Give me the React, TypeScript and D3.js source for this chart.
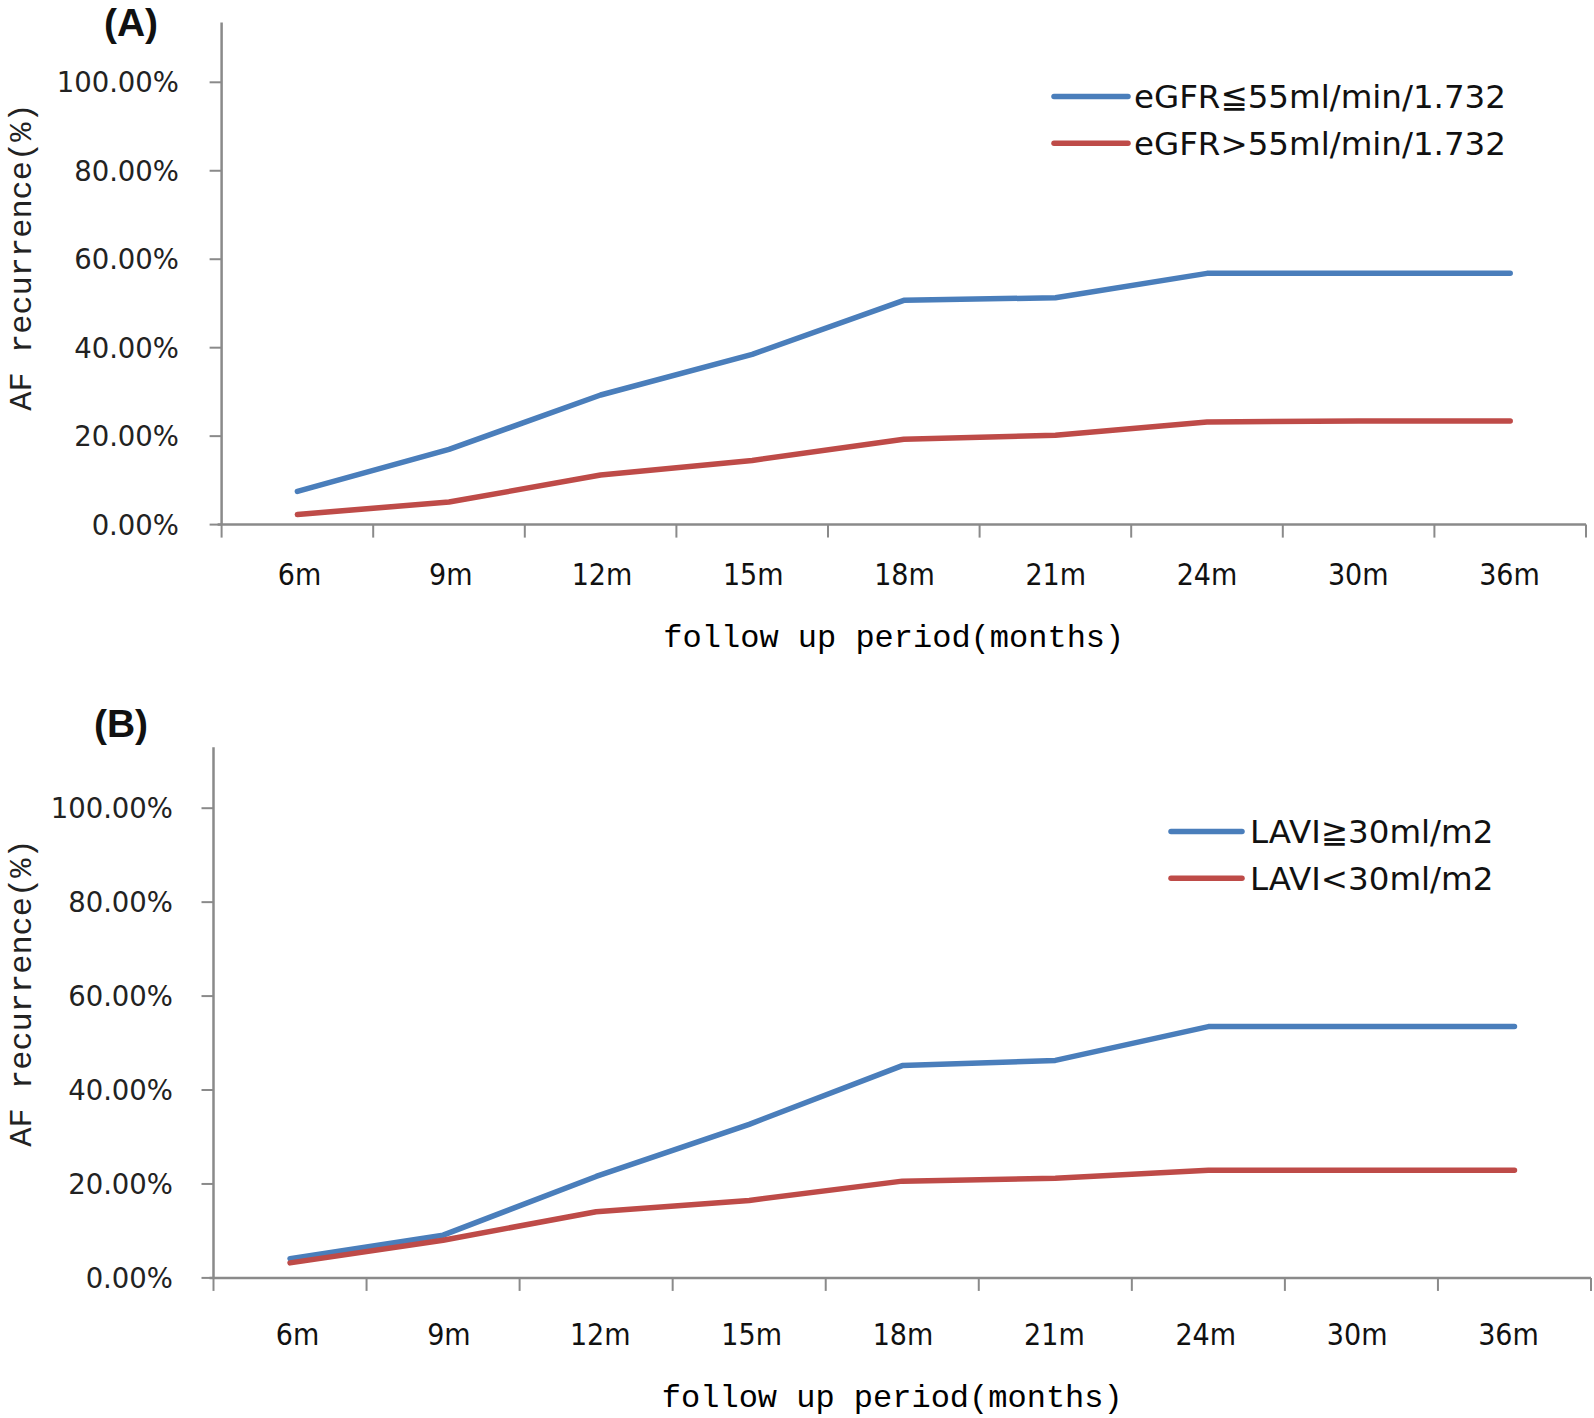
import React from "react";
import * as d3 from "d3";

const categories = ["6m", "9m", "12m", "15m", "18m", "21m", "24m", "30m", "36m"];
const yTicks = [0, 20, 40, 60, 80, 100];

const egfrLow = [7.5, 17.0, 29.3, 38.5, 50.7, 51.3, 56.8, 56.8, 56.8];
const egfrHigh = [2.3, 5.1, 11.2, 14.5, 19.3, 20.2, 23.2, 23.4, 23.4];
const laviHigh = [4.1, 9.1, 21.6, 32.7, 45.2, 46.3, 53.5, 53.5, 53.5];
const laviLow = [3.2, 8.0, 14.1, 16.5, 20.6, 21.2, 22.9, 22.9, 22.9];

const panelALabels = ["eGFR\u226655ml/min/1.732", "eGFR>55ml/min/1.732"];
const panelBLabels = ["LAVI\u226730ml/m2", "LAVI<30ml/m2"];

const BLUE = "#4A7EBB";
const RED = "#BE4B48";
const AXIS = "#8a8a8a";

type PanelProps = {
  tag: string;
  tagX: number;
  tagY: number;
  left: number;
  right: number;
  labelFirst: number;
  labelLast: number;
  y0: number;
  y100: number;
  axisTopVal: number;
  tickLabelX: number;
  xLabelY: number;
  xTitleY: number;
  yTitleX: number;
  yTitleY: number;
  series: number[][];
  labels: string[];
  legX1: number;
  legX2: number;
  legY: number[];
  legTextX: number;
};

function Panel(p: PanelProps) {
  const x = d3.scaleBand<string>().domain(categories).range([p.left, p.right]).padding(0);
  const xl = d3.scalePoint<string>().domain(categories).range([p.labelFirst, p.labelLast]);
  const y = d3.scaleLinear().domain([0, 100]).range([p.y0, p.y100]);
  const line = d3
    .line<number>()
    .x((_, i) => (x(categories[i]) as number) + x.bandwidth() / 2)
    .y((d) => y(d));
  const colors = [BLUE, RED];
  const boundaries = categories.map((c) => x(c) as number).concat([p.right]);
  return (
    <g>
      <text x={p.tagX} y={p.tagY} textAnchor="middle" fontFamily="Liberation Sans, Arial, sans-serif" fontWeight="bold" fontSize={39} fill="#111">
        {p.tag}
      </text>
      <line x1={p.left} x2={p.left} y1={y(p.axisTopVal)} y2={p.y0} stroke={AXIS} strokeWidth={2.5} />
      {yTicks.map((t) => (
        <g key={t}>
          <line x1={p.left - 12} x2={p.left} y1={y(t)} y2={y(t)} stroke={AXIS} strokeWidth={2} />
          <text x={p.tickLabelX} y={y(t)} dy="0.36em" textAnchor="end" fontFamily="DejaVu Sans, Verdana, sans-serif" fontSize={27.5} fill="#222">
            {t.toFixed(2) + "%"}
          </text>
        </g>
      ))}
      <line x1={p.left - 4} x2={p.right} y1={p.y0} y2={p.y0} stroke={AXIS} strokeWidth={2.5} />
      {boundaries.map((bx, i) => (
        <line key={i} x1={bx} x2={bx} y1={p.y0} y2={p.y0 + 13} stroke={AXIS} strokeWidth={2} />
      ))}
      {categories.map((c) => (
        <text key={c} x={xl(c) as number} y={p.xLabelY} textAnchor="middle" fontFamily="DejaVu Sans Condensed, DejaVu Sans, sans-serif" fontSize={30} fill="#111">
          {c}
        </text>
      ))}
      <text x={(p.left + p.right) / 2 - 10} y={p.xTitleY} textAnchor="middle" fontFamily="Liberation Mono, monospace" fontSize={32} fill="#000">
        follow up period(months)
      </text>
      <text transform={`translate(${p.yTitleX},${p.yTitleY}) rotate(-90)`} textAnchor="middle" dy="0.35em" fontFamily="Liberation Mono, monospace" fontSize={32} fill="#222">
        AF recurrence(%)
      </text>
      {p.series.map((s, i) => (
        <path key={i} d={line(s) || ""} fill="none" stroke={colors[i]} strokeWidth={5.5} strokeLinejoin="round" strokeLinecap="round" />
      ))}
      {p.labels.map((l, i) => (
        <g key={l}>
          <line x1={p.legX1} x2={p.legX2} y1={p.legY[i]} y2={p.legY[i]} stroke={colors[i]} strokeWidth={5.5} strokeLinecap="round" />
          <text x={p.legTextX} y={p.legY[i]} dy="0.36em" fontFamily="DejaVu Sans, Verdana, sans-serif" fontSize={32.5} fill="#111">
            {l}
          </text>
        </g>
      ))}
    </g>
  );
}

export default function App() {
  return (
    <svg width={1594} height={1418} style={{ position: "absolute", left: 0, top: 0, background: "#fff" }}>
      <rect width={1594} height={1418} fill="#fff" />
      <Panel
        tag="(A)"
        tagX={131}
        tagY={36}
        left={221.6}
        right={1586}
        labelFirst={299.5}
        labelLast={1509.5}
        y0={524.6}
        y100={82.3}
        axisTopVal={113.5}
        tickLabelX={179}
        xLabelY={585}
        xTitleY={647}
        yTitleX={20}
        yTitleY={257}
        series={[egfrLow, egfrHigh]}
        labels={panelALabels}
        legX1={1054}
        legX2={1128}
        legY={[96.6, 143.3]}
        legTextX={1134}
      />
      <Panel
        tag="(B)"
        tagX={121}
        tagY={737}
        left={213.5}
        right={1591}
        labelFirst={297.5}
        labelLast={1508.5}
        y0={1277.9}
        y100={808.2}
        axisTopVal={113}
        tickLabelX={173}
        xLabelY={1345}
        xTitleY={1407}
        yTitleX={20}
        yTitleY={993}
        series={[laviHigh, laviLow]}
        labels={panelBLabels}
        legX1={1171}
        legX2={1242}
        legY={[831.6, 878.3]}
        legTextX={1250}
      />
    </svg>
  );
}
